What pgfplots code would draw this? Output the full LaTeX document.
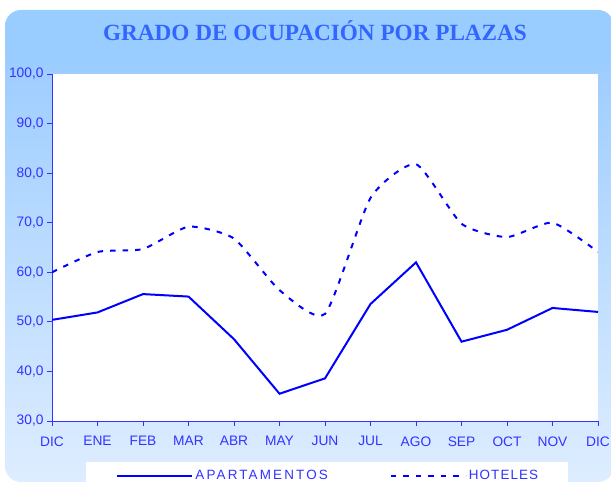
\documentclass[border=0pt]{standalone}
\usepackage{pgfplots}
\pgfplotsset{compat=1.18}
\usepackage{fontspec}
\setmainfont{Liberation Serif}
\newfontfamily\arial{Liberation Sans}
\definecolor{bgtop}{RGB}{153,204,255}
\definecolor{bgmid}{RGB}{160,206,255}
\definecolor{bgbot}{RGB}{222,237,255}
\definecolor{axblue}{RGB}{51,51,255}
\definecolor{titleblue}{RGB}{51,102,255}
\definecolor{serblue}{RGB}{0,0,255}
\pgfdeclareverticalshading{bgshade}{100bp}{color(0bp)=(bgbot); color(25bp)=(bgbot); color(68bp)=(bgmid); color(70bp)=(bgtop); color(100bp)=(bgtop)}
\begin{document}
\begin{tikzpicture}[x=1bp,y=1bp]
\useasboundingbox (0,0) rectangle (611,484);
\shade[shading=bgshade, rounded corners=16bp] (5,2) rectangle (614,474);
\fill[white] (86,-8) rectangle (568,22);
\node[font=\fontsize{23.3}{26}\selectfont\bfseries, text=titleblue, anchor=base, inner sep=0pt] at (315,443) {GRADO DE OCUPACIÓN POR PLAZAS};
\begin{axis}[
  at={(52bp,63bp)}, anchor=south west,
  width=546bp, height=347bp, scale only axis,
  xmin=0, xmax=12, ymin=30, ymax=100,
  ytick={30,40,...,100},
  xtick={0,1,...,12},
  xticklabels={DIC,ENE,FEB,MAR,ABR,MAY,JUN,JUL,AGO,SEP,OCT,NOV,DIC},
  axis lines*=left,
  axis line style={axblue, line width=0.8bp},
  tick style={axblue, line width=0.8bp},
  tick align=outside, major tick length=5bp,
  axis background/.style={fill=white},
  ticklabel style={font=\arial\fontsize{13.8}{16}\selectfont, text=axblue},
  xticklabel style={yshift=-7bp},
  yticklabel style={/pgf/number format/.cd, use comma, fixed, fixed zerofill, precision=1, assume math mode=true},
  legend style={at={(0.506,-0.158)}, anchor=center, draw=none, fill=none,
    font=\arial\fontsize{13.5}{16}\selectfont, text=axblue,
    nodes={inner sep=2bp},
    /tikz/every even column/.append style={column sep=60bp}},
  legend columns=2,
  legend image code/.code={\draw[#1] (0bp,0bp) -- (75bp,0bp);},
]
\addplot[serblue, line width=2bp] coordinates {(0,50.4)(1,51.9)(2,55.6)(3,55.1)(4,46.5)(5,35.5)(6,38.6)(7,53.6)(8,62.0)(9,46.0)(10,48.4)(11,52.8)(12,52.0)};
\addlegendentry{\addfontfeature{LetterSpace=16}APARTAMENTOS}
\addplot[serblue, line width=2bp, dash pattern=on 5.5bp off 7bp, smooth, tension=0.35] coordinates {(0,60.0)(1,64.1)(2,64.7)(3,69.2)(4,66.8)(5,56.4)(6,51.6)(7,75.0)(8,81.8)(9,69.8)(10,67.1)(11,70.0)(12,64.1)};
\addlegendentry{\addfontfeature{LetterSpace=8}HOTELES}
\end{axis}
\end{tikzpicture}
\end{document}
